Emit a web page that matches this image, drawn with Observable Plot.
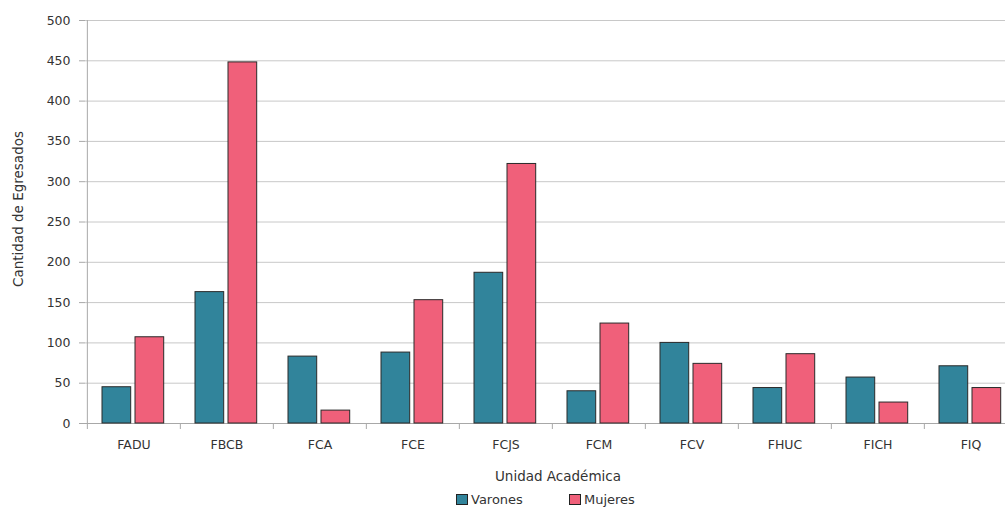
<!DOCTYPE html>
<html>
<head>
<meta charset="utf-8">
<script src="https://cdn.jsdelivr.net/npm/d3@7"></script>
<script src="https://cdn.jsdelivr.net/npm/@observablehq/plot@0.6"></script>
<style>
  html, body { margin: 0; padding: 0; background: #fff; overflow: hidden; }
  #chart { width: 1005px; }
  .legend { position: relative; height: 20px; font-family: "DejaVu Sans", sans-serif; font-size: 13px; color: #333; }
  .item { position: absolute; top: 2px; display: flex; align-items: center; }
  .sw { width: 10px; height: 9px; border: 1px solid #222; margin-right: 3px; }
</style>
</head>
<body>
<div id="chart"></div>
<script>
const categories = ["FADU","FBCB","FCA","FCE","FCJS","FCM","FCV","FHUC","FICH","FIQ"];
const varones = [45,163,83,88,187,40,100,44,57,71];
const mujeres = [107,448,16,153,322,124,74,86,26,44];
const yTicks = [0,50,100,150,200,250,300,350,400,450,500];
const seriesNames = ["Varones","Mujeres"];
const colors = ["#31849b","#f0607a"];

const rowsV = categories.map((c, i) => ({unidad: c, serie: seriesNames[0], valor: varones[i]}));
const rowsM = categories.map((c, i) => ({unidad: c, serie: seriesNames[1], valor: mujeres[i]}));

const x0 = 85, x1 = 1018;
const step = (x1 - x0) / categories.length;
const outer = 15, bw = 29;
const font = "DejaVu Sans";

const chart = Plot.plot({
  width: 1005,
  height: 490,
  marginLeft: 85,
  marginRight: 0,
  marginTop: 20,
  marginBottom: 67,
  style: {fontFamily: font, background: "white", overflow: "visible"},
  x: {domain: categories, range: [x0, x1], padding: 0, axis: null, label: null},
  y: {domain: [0, 500], axis: null, label: null},
  marks: [
    Plot.ruleY(yTicks, {stroke: "#c8c8c8", strokeWidth: 1}),
    Plot.ruleY([0], {stroke: "#a8a8a8", strokeWidth: 1}),
    Plot.ruleX([categories[0]], {dx: -step / 2, y1: 0, y2: 500, stroke: "#a8a8a8"}),
    Plot.axisY({ticks: yTicks, label: null, tickSize: 6, tickPadding: 9, stroke: "#a8a8a8", fill: "#333", fontSize: 12.5, tickFormat: d => String(d)}),
    Plot.axisX({label: null, tickSize: 6, tickFormat: () => "", dx: -step / 2, stroke: "#a8a8a8"}),
    Plot.axisX({label: null, tickSize: 0, tickPadding: 17, fill: "#333", fontSize: 12.5}),
    Plot.barY(rowsV, {x: "unidad", y: "valor", fill: colors[0], stroke: "#2a2a2a", strokeWidth: 1,
      insetLeft: outer, insetRight: step - outer - bw}),
    Plot.barY(rowsM, {x: "unidad", y: "valor", fill: colors[1], stroke: "#2a2a2a", strokeWidth: 1,
      insetLeft: outer + bw + 4, insetRight: step - outer - 2 * bw - 4}),
    Plot.text(["Unidad Académica"], {frameAnchor: "bottom", dx: 12.5, dy: 53, fontSize: 13.5, fill: "#333", textAnchor: "middle", lineAnchor: "middle"}),
    Plot.text(["Cantidad de Egresados"], {frameAnchor: "left", dx: -67, dy: -13, rotate: -90, fontSize: 13.5, fill: "#333", textAnchor: "middle", lineAnchor: "middle"})
  ]
});
document.getElementById("chart").appendChild(chart);

const legend = document.createElement("div");
legend.className = "legend";
const lefts = [456, 569];
seriesNames.forEach((name, i) => {
  const it = document.createElement("div");
  it.className = "item";
  it.style.left = lefts[i] + "px";
  const sw = document.createElement("span");
  sw.className = "sw";
  sw.style.background = colors[i];
  const t = document.createElement("span");
  t.textContent = name;
  it.appendChild(sw);
  it.appendChild(t);
  legend.appendChild(it);
});
document.getElementById("chart").appendChild(legend);
</script>
</body>
</html>
